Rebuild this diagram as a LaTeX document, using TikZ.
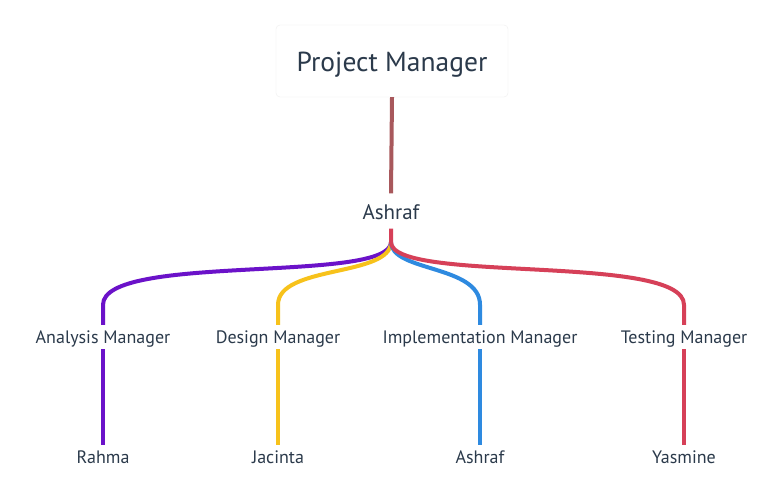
\documentclass[tikz,border=0pt]{standalone}
\usepackage{fontspec}
\setmainfont{PT Sans}
\definecolor{txt}{HTML}{2B3A4B}
\definecolor{boxline}{HTML}{EFEFEF}
\definecolor{topline}{HTML}{A8585C}
\definecolor{anaPurple}{HTML}{6B12C9}
\definecolor{desYellow}{HTML}{F7C21B}
\definecolor{impBlue}{HTML}{2E8AE0}
\definecolor{tesRed}{HTML}{D64058}
\begin{document}
\begin{tikzpicture}[x=1pt, y=-1pt,
	lbl/.style={text=txt, font=\fontsize{18}{20}\selectfont, inner sep=0pt, text height=14.6pt, text depth=2pt, minimum height=24pt},
	branch/.style={line width=4pt}]
	\fill[white] (0,0) rectangle (783,494);
	\useasboundingbox (0,0) rectangle (783,494);

	\node[draw=boxline, fill=white, rounded corners=4pt, minimum width=232pt, minimum height=72pt, text height=21pt, text depth=0pt, text=txt, font=\fontsize{27.5}{30}\selectfont] (pm) at (392,61) {Project Manager};
	\node[text=txt, font=\fontsize{21}{24}\selectfont, inner sep=0pt, text height=17.7pt, text depth=1pt, minimum height=35pt] (ash) at (391,211) {Ashraf};
	\coordinate (jn) at (391,242);

	\node[lbl] (am) at (103,337) {Analysis Manager};
	\node[lbl] (dm) at (278,337) {Design Manager};
	\node[lbl] (im) at (480,337) {Implementation Manager};
	\node[lbl] (tm) at (684,337) {Testing Manager};

	\node[lbl] (rah) at (103,457) {Rahma};
	\node[lbl] (jac) at (278,457) {Jacinta};
	\node[lbl] (ash2) at (480,457) {Ashraf};
	\node[lbl] (yas) at (684,457) {Yasmine};

	\draw[branch, topline] (pm.south) -- (ash.north);

	\draw[branch, anaPurple] (jn) .. controls +(0,42) and +(0,-52) .. ([yshift=20pt]am.north) -- (am.north);
	\draw[branch, desYellow] (jn) .. controls +(0,35) and +(0,-40) .. ([yshift=20pt]dm.north) -- (dm.north);
	\draw[branch, impBlue] (jn) .. controls +(0,30) and +(0,-40) .. ([yshift=20pt]im.north) -- (im.north);
	\draw[branch, tesRed] (ash.south) -- (jn) .. controls +(0,42) and +(0,-52) .. ([yshift=20pt]tm.north) -- (tm.north);

	\draw[branch, anaPurple] (am.south) -- (rah.north);
	\draw[branch, desYellow] (dm.south) -- (jac.north);
	\draw[branch, impBlue] (im.south) -- (ash2.north);
	\draw[branch, tesRed] (tm.south) -- (yas.north);
\end{tikzpicture}
\end{document}
